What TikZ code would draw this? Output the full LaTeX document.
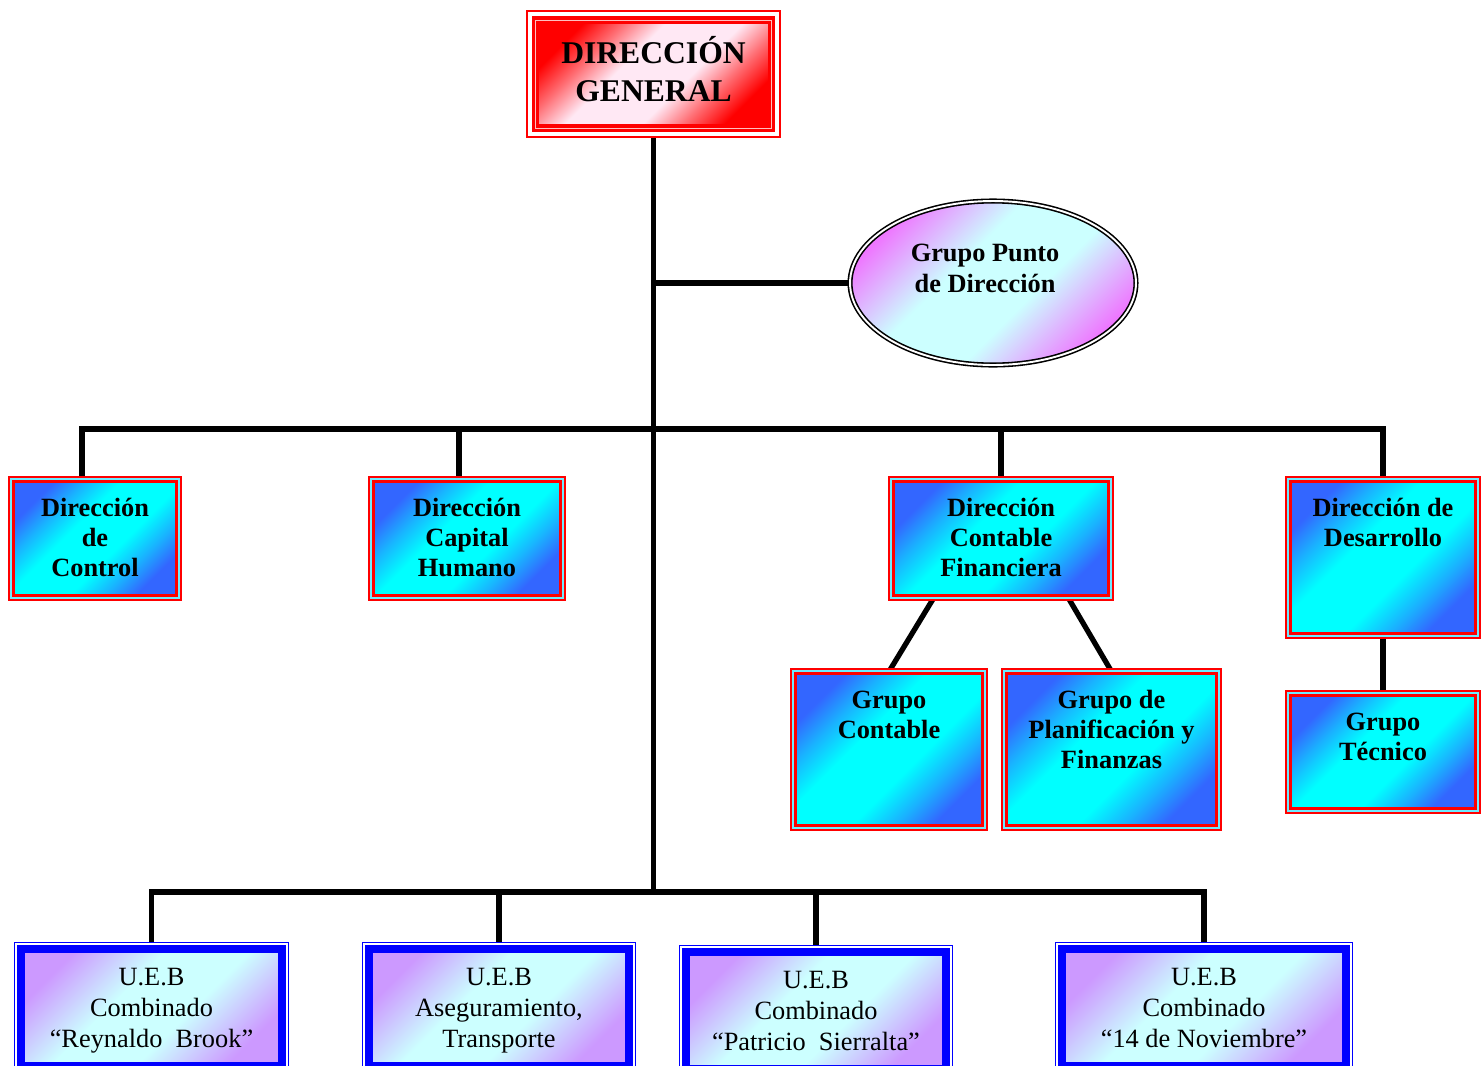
\documentclass[tikz,border=0pt]{standalone}
\usepackage{fontspec}
\setmainfont{Liberation Serif}
\usepackage{tikz}
\usetikzlibrary{backgrounds,shapes.geometric}
\definecolor{org@red}{RGB}{255,0,0}
\definecolor{org@pink}{RGB}{255,232,244}
\definecolor{org@blue}{RGB}{51,102,255}
\definecolor{org@cyan}{RGB}{0,255,255}
\definecolor{org@gap}{RGB}{110,235,255}
\definecolor{org@navy}{RGB}{0,0,255}
\definecolor{org@lilac}{RGB}{204,153,255}
\definecolor{org@ice}{RGB}{204,255,255}
\definecolor{org@magenta}{RGB}{238,119,255}
% corner-to-corner fills
\pgfdeclareverticalshading{redfill}{100bp}{color(0bp)=(org@red); color(25bp)=(org@red);
  color(33bp)=(org@red!55!org@pink); color(42bp)=(org@pink); color(58bp)=(org@pink);
  color(67bp)=(org@red!55!org@pink); color(75bp)=(org@red); color(100bp)=(org@red)}
\pgfdeclareverticalshading{bluefill}{100bp}{color(0bp)=(org@blue); color(25bp)=(org@blue);
  color(33bp)=(org@blue!50!org@cyan); color(42bp)=(org@cyan); color(58bp)=(org@cyan);
  color(67bp)=(org@blue!50!org@cyan); color(75bp)=(org@blue); color(100bp)=(org@blue)}
\pgfdeclareverticalshading{lilacfill}{100bp}{color(0bp)=(org@lilac); color(25bp)=(org@lilac);
  color(42bp)=(org@ice); color(58bp)=(org@ice); color(75bp)=(org@lilac); color(100bp)=(org@lilac)}
\pgfdeclareverticalshading{ellfill}{100bp}{color(0bp)=(org@magenta); color(25bp)=(org@magenta);
  color(42bp)=(org@ice); color(58bp)=(org@ice); color(75bp)=(org@magenta); color(100bp)=(org@magenta)}
\tikzset{
  chart/.style={x=0.02cm, y=-0.02cm},
  link/.style={draw=black, line width=3pt},
  dgbox/.style={                   % top management box
    preaction={draw=org@red, line width=11.3pt},
    preaction={draw=white, line width=9.1pt},
    draw=org@red, line width=4.5pt,
    postaction={draw=org@red!25, line width=0.5pt},
    shading=redfill, shading angle=45,
    font=\fontsize{18}{21.5}\selectfont\bfseries,
    align=center, inner sep=0pt, text height=34.5pt, text depth=3.5pt,
    minimum width=4.72cm, minimum height=2.16cm
  },
  rbox/.style={                    % direction / group box
    preaction={draw=org@red, line width=6.3pt},
    preaction={draw=org@gap, line width=4.1pt},
    draw=org@red, line width=1.9pt,
    shading=bluefill, shading angle=45,
    font=\fontsize{15}{17}\selectfont\bfseries,
    align=center, anchor=north, inner ysep=0pt
  },
  uebox/.style={                   % business unit box
    preaction={draw=org@navy, line width=7.9pt},
    preaction={draw=white, line width=6.7pt},
    draw=org@navy, line width=4.5pt,
    shading=lilacfill, shading angle=45,
    font=\fontsize{15}{17.6}\selectfont,
    align=center, anchor=north, inner ysep=0pt, text height=56.2pt, text depth=10.1pt
  },
  ellnode/.style={
    ellipse, draw=black, line width=0.9pt, double=white, double distance=1.1pt,
    shading=ellfill, shading angle=45,
    font=\fontsize{15}{18}\selectfont\bfseries,
    align=center, inner sep=0pt, text height=29pt, text depth=18pt,
    minimum width=5.72cm, minimum height=3.28cm
  }
}

\begin{document}
\begin{tikzpicture}[chart]
\useasboundingbox (0,0) rectangle (1483,1065);

\node[dgbox] (dg) at (653.5,74) {DIRECCIÓN\\GENERAL};
\node[ellnode] (gpd) at (993,283) {Grupo Punto\rule{9pt}{0pt}\\de Dirección\rule{9pt}{0pt}};

\node[rbox, minimum width=3.26cm, text height=54pt, text depth=11.2pt] (dc)  at (95,479.5)   {Dirección\\de\\Control};
\node[rbox, minimum width=3.74cm, text height=54pt, text depth=11.2pt] (dch) at (467,479.5)  {Dirección\\Capital\\Humano};
\node[rbox, minimum width=4.30cm, text height=54pt, text depth=11.2pt] (dcf) at (1001,479.5) {Dirección\\Contable\\Financiera};
\node[rbox, minimum width=3.70cm, text height=37pt, text depth=49.8pt] (dd)  at (1383,479.5) {Dirección de\\Desarrollo};

\node[rbox, minimum width=3.74cm, text height=37pt, text depth=49.8pt] (gc)  at (889,671.5)    {Grupo\\Contable};
\node[rbox, minimum width=4.20cm, text height=54pt, text depth=32.8pt] (gpf) at (1111.5,671.5) {Grupo de\\Planificación y\\Finanzas};
\node[rbox, minimum width=3.70cm, text height=37pt, text depth=27.6pt] (gt)  at (1383,693.5)   {Grupo\\Técnico};

\node[uebox, minimum width=5.22cm] (u1) at (151.5,945) {U.E.B\\Combinado\\“Reynaldo\ \ Brook”};
\node[uebox, minimum width=5.20cm] (u2) at (499,945)   {U.E.B\\Aseguramiento,\\Transporte};
\node[uebox, minimum width=5.20cm] (u3) at (816,948)   {U.E.B\\Combinado\\“Patricio\ \ Sierralta”};
\node[uebox, minimum width=5.68cm] (u4) at (1204,945)  {U.E.B\\Combinado\\“14 de Noviembre”};

\coordinate (busA) at (dg.south |- 0,429);
\coordinate (busB) at (dg.south |- 0,892);
\coordinate (dctop)  at ([xshift=-0.26cm]dc.north);
\coordinate (dchtop) at ([xshift=-0.16cm]dch.north);

% connectors behind the boxes
\begin{scope}[on background layer]
\draw[link] (dg.south) -- (busB);
\draw[link] (gpd.west) -- (gpd.west -| dg.south);
\draw[link] (dctop) |- (busA) -| (dd.north);
\draw[link] (dchtop) -- (dchtop |- busA);
\draw[link] (dcf.north) -- (dcf.north |- busA);
\draw[link] ([xshift=-1.34cm]dcf.south) -- (gc.north);
\draw[link] ([xshift=1.34cm]dcf.south) -- (gpf.north);
\draw[link] (dd.south) -- (gt.north);
\draw[link] (u1.north) |- (busB) -| (u4.north);
\draw[link] (u2.north) -- (u2.north |- busB);
\draw[link] (u3.north) -- (u3.north |- busB);
\end{scope}

\end{tikzpicture}
\end{document}
